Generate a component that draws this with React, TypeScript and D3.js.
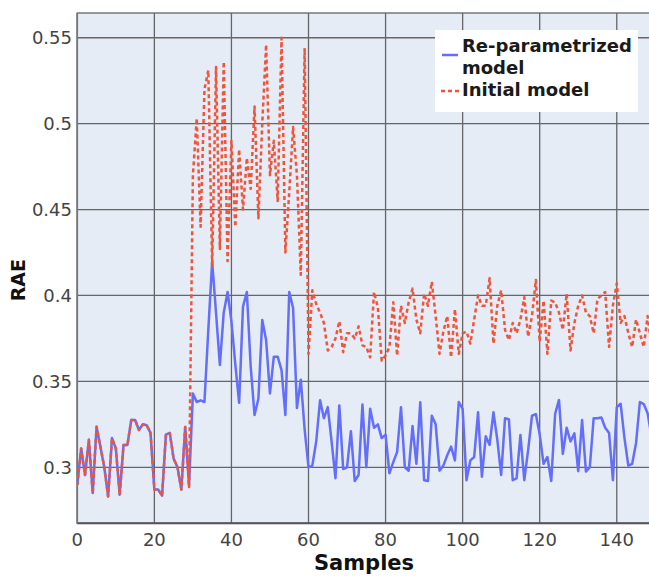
import React from 'react';
import * as d3 from 'd3';

// sample index 0..149
const reparamValues = [
  0.2897, 0.311, 0.2955, 0.316, 0.285, 0.3236, 0.312, 0.3, 0.283, 0.317,
  0.311, 0.284, 0.313, 0.313, 0.3275, 0.3275, 0.3217, 0.325, 0.3245, 0.32,
  0.287, 0.287, 0.2835, 0.319, 0.32, 0.305, 0.3, 0.287, 0.3235, 0.2895,
  0.343, 0.338, 0.339, 0.338, 0.38, 0.4197, 0.39, 0.3595, 0.39, 0.402,
  0.385, 0.36, 0.3375, 0.3935, 0.402, 0.3585, 0.3304, 0.34, 0.3857, 0.374,
  0.343, 0.3644, 0.3644, 0.3566, 0.3304, 0.402, 0.3927, 0.3345, 0.351, 0.322,
  0.3, 0.301, 0.315, 0.339, 0.3285, 0.335, 0.315, 0.2936, 0.336, 0.299,
  0.3, 0.321, 0.292, 0.2955, 0.3365, 0.3, 0.334, 0.323, 0.325, 0.317,
  0.319, 0.2965, 0.303, 0.309, 0.335, 0.3, 0.298, 0.324, 0.302, 0.3378,
  0.2925, 0.292, 0.33, 0.325, 0.298, 0.301, 0.307, 0.312, 0.304, 0.338,
  0.334, 0.2925, 0.304, 0.306, 0.332, 0.2945, 0.318, 0.313, 0.332, 0.316,
  0.2955, 0.3285, 0.328, 0.2925, 0.2935, 0.3188, 0.2925, 0.31, 0.33, 0.331,
  0.319, 0.302, 0.306, 0.292, 0.331, 0.3392, 0.3078, 0.323, 0.315, 0.3198,
  0.2977, 0.3275, 0.2975, 0.3, 0.3285, 0.3285, 0.329, 0.323, 0.32, 0.2925,
  0.335, 0.337, 0.317, 0.301, 0.302, 0.314, 0.338, 0.3368, 0.3315, 0.318,
];

const initialValues = [
  0.2897, 0.311, 0.2955, 0.316, 0.285, 0.3236, 0.312, 0.3, 0.283, 0.317,
  0.311, 0.284, 0.313, 0.313, 0.3275, 0.3275, 0.3217, 0.325, 0.3245, 0.32,
  0.287, 0.287, 0.2835, 0.319, 0.32, 0.305, 0.3, 0.287, 0.3235, 0.2885,
  0.47, 0.503, 0.44, 0.52, 0.531, 0.417, 0.533, 0.427, 0.536, 0.42,
  0.49, 0.44, 0.485, 0.45, 0.48, 0.462, 0.51, 0.445, 0.5, 0.546,
  0.47, 0.49, 0.455, 0.55, 0.425, 0.46, 0.498, 0.47, 0.412, 0.544,
  0.366, 0.403, 0.395, 0.39, 0.384, 0.368, 0.37, 0.375, 0.385, 0.367,
  0.378, 0.378, 0.375, 0.382, 0.371, 0.37, 0.364, 0.402, 0.393, 0.362,
  0.365, 0.37, 0.396, 0.365, 0.394, 0.384, 0.396, 0.404, 0.386, 0.378,
  0.401, 0.394, 0.408, 0.388, 0.366, 0.379, 0.388, 0.364, 0.392, 0.366,
  0.378, 0.379, 0.372, 0.386, 0.4, 0.394, 0.394, 0.41, 0.372, 0.394,
  0.403, 0.38, 0.374, 0.384, 0.378, 0.386, 0.399, 0.376, 0.388, 0.409,
  0.373, 0.397, 0.366, 0.397, 0.396, 0.39, 0.38, 0.401, 0.368, 0.384,
  0.394, 0.4, 0.39, 0.388, 0.378, 0.398, 0.4, 0.402, 0.37, 0.394,
  0.407, 0.384, 0.388, 0.378, 0.37, 0.386, 0.378, 0.37, 0.388, 0.37,
];

const xTicks = [0, 20, 40, 60, 80, 100, 120, 140];
const yTicks = [0.3, 0.35, 0.4, 0.45, 0.5, 0.55];

const W = 649;
const H = 577;
const left = 77.3;
const right = 655.3;
const top = 13;
const bottom = 523.3;

const x = d3.scaleLinear().domain([0, 150]).range([left, right]);
const y = d3.scaleLinear().domain([0.2674, 0.5644]).range([bottom, top]);

const line = d3.line<number>()
  .x((_, i) => x(i))
  .y(d => y(d));

const font = "'DejaVu Sans', Verdana, sans-serif";
const blue = '#636efa';
const red = '#ef553b';

export default function App() {
  return (
    <svg width={W} height={H} style={{ position: 'absolute', left: 0, top: 0, background: '#fff' }}>
      <defs>
        <clipPath id="plot">
          <rect x={left} y={top} width={right - left} height={bottom - top} />
        </clipPath>
      </defs>
      <rect x={left} y={top} width={right - left} height={bottom - top} fill="#e5ecf6" stroke="#777" strokeWidth={1.5} />

      {xTicks.map(t => (
        <line key={'gx' + t} x1={x(t)} x2={x(t)} y1={top} y2={bottom} stroke="#666" strokeWidth={1.3} />
      ))}
      {yTicks.map(t => (
        <line key={'gy' + t} x1={left} x2={right} y1={y(t)} y2={y(t)} stroke="#666" strokeWidth={1.3} />
      ))}
      <line x1={left} x2={right} y1={bottom} y2={bottom} stroke="#555" strokeWidth={2} />
      <line x1={left} x2={left} y1={top} y2={bottom} stroke="#777" strokeWidth={1.5} />

      <g clipPath="url(#plot)" fill="none" strokeLinejoin="round">
        <path d={line(reparamValues) ?? ''} stroke={blue} strokeWidth={2.5} />
        <path d={line(initialValues) ?? ''} stroke={red} strokeWidth={2.5} strokeDasharray="4,3" />
      </g>

      <g fontFamily={font} fontSize={18} fill="#444">
        {xTicks.map(t => (
          <text key={'tx' + t} x={x(t)} y={546} textAnchor="middle">{t}</text>
        ))}
        {yTicks.map(t => (
          <text key={'ty' + t} x={72} y={y(t)} dy="0.36em" textAnchor="end">{+t.toFixed(2)}</text>
        ))}
      </g>

      <text x={364} y={570} textAnchor="middle" fontFamily={font} fontWeight="bold" fontSize={21} fill="#111">Samples</text>
      <text transform={`translate(25,${(top + bottom) / 2 + 12}) rotate(-90)`} textAnchor="middle" fontFamily={font} fontWeight="bold" fontSize={19} fill="#111">RAE</text>

      <g fontFamily={font} fontWeight="bold" fontSize={18} fill="#1a1a1a">
        <rect x={435} y={30} width={203} height={82} fill="#fff" />
        <line x1={442} x2={458} y1={55} y2={55} stroke={blue} strokeWidth={2.5} />
        <text x={462} y={52}>Re-parametrized</text>
        <text x={462} y={74}>model</text>
        <line x1={441} x2={459} y1={91} y2={91} stroke={red} strokeWidth={2.5} strokeDasharray="4,3" />
        <text x={462} y={96}>Initial model</text>
      </g>
    </svg>
  );
}
